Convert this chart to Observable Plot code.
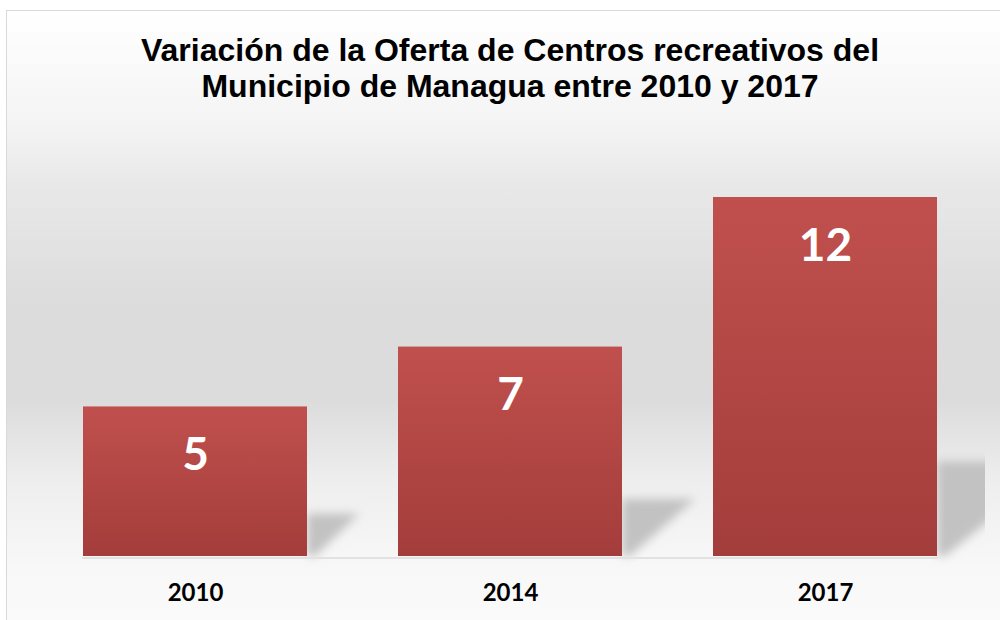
<!DOCTYPE html>
<html>
<head>
<meta charset="utf-8">
<script src="https://cdn.jsdelivr.net/npm/d3@7"></script>
<script src="https://cdn.jsdelivr.net/npm/@observablehq/plot@0.6"></script>
<style>
  html, body { margin: 0; padding: 0; width: 1000px; height: 620px; overflow: hidden; background: #ffffff; }
  #frame {
    position: absolute; left: 6px; top: 10px; width: 1010px; height: 630px;
    border: 1.5px solid #d9d9d9; box-sizing: border-box;
    background: linear-gradient(to bottom, #ffffff 0%, #f4f4f4 18%, #e8e8e8 28%, #dcdcdc 47%, #dcdcdc 62%, #eeeeee 75%, #f8f8f8 89%, #fbfbfb 100%);
  }
  #title {
    position: absolute; left: 0; top: 32px; width: 1020px; text-align: center;
    font-family: "Liberation Sans", Arial, sans-serif; font-weight: bold; font-size: 32px;
    line-height: 36px; color: #000;
  }
  #chart { position: absolute; left: 0; top: 0; }
</style>
</head>
<body>
<div id="frame"></div>
<div id="title">Variación de la Oferta de Centros recreativos del<br>Municipio de Managua entre 2010 y 2017</div>
<div id="chart"></div>
<script>
const years = ["2010", "2014", "2017"];
const values = [5, 7, 12];

const data = years.map((year, i) => ({year, value: values[i]}));

const shadowMark = Plot.barY(data, {
  x: "year",
  y: "value",
  render(index, scales, vals, dimensions, context) {
    const g = d3.create("svg:g").attr("clip-path", "url(#plotClip)");
    const inner = g.append("g").attr("filter", "url(#shadowBlur)");
    const bw = scales.x.bandwidth();
    for (const i of index) {
      const R = vals.x[i] + bw;
      const B = vals.y1[i];
      const T = vals.y2[i];
      const h = B - T;
      const sh = 0.25 * h + 5;
      const sw = 0.35 * h;
      inner.append("polygon")
        .attr("points", [[R, B], [R, B - sh], [R + sw, B - sh], [R + 8, B]].map(p => p.join(",")).join(" "))
        .attr("fill", "#c2c2c2");
    }
    return g.node();
  }
});

const chart = Plot.plot({
  width: 1000,
  height: 620,
  marginTop: 197,
  marginBottom: 64,
  marginLeft: 82,
  marginRight: 62,
  style: {background: "transparent", overflow: "visible"},
  x: {domain: years, type: "band", paddingInner: 0.2875, paddingOuter: 0, label: null},
  y: {domain: [0, 12], axis: null},
  marks: [
    shadowMark,
    Plot.ruleY([0], {stroke: "#e2e2e2", strokeWidth: 2, dy: 1.5}),
    Plot.barY(data, {x: "year", y: "value", fill: "url(#barGrad)"}),
    Plot.text(data, {
      x: "year", y: "value", text: d => String(d.value),
      fill: "white", fontSize: 46, fontWeight: "bold", fontFamily: "Lato, sans-serif",
      lineAnchor: "bottom", dy: 63
    }),
    Plot.axisX({
      tickSize: 0, tickPadding: 27, fontSize: 24, fontWeight: "bold",
      fontFamily: "Lato, sans-serif", label: null, fill: "#000", color: "#000"
    })
  ]
});

const svg = d3.select(chart);
const defs = svg.insert("defs", ":first-child");
const grad = defs.append("linearGradient").attr("id", "barGrad")
  .attr("x1", 0).attr("y1", 0).attr("x2", 0).attr("y2", 1);
grad.append("stop").attr("offset", "0%").attr("stop-color", "#c0504d");
grad.append("stop").attr("offset", "100%").attr("stop-color", "#a33d3b");
const filt = defs.append("filter").attr("id", "shadowBlur")
  .attr("x", "-50%").attr("y", "-50%").attr("width", "200%").attr("height", "200%");
filt.append("feGaussianBlur").attr("stdDeviation", 5);
defs.append("clipPath").attr("id", "plotClip")
  .append("rect").attr("x", 0).attr("y", 0).attr("width", 985).attr("height", 620);

document.getElementById("chart").appendChild(chart);
</script>
</body>
</html>
